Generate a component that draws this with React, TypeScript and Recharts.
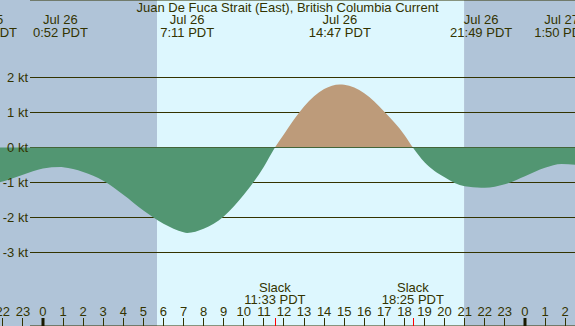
import React from "react";
import {
  ComposedChart,
  Area,
  XAxis,
  YAxis,
  CartesianGrid,
  ReferenceArea,
  ReferenceDot,
} from "recharts";

const W = 575;
const H = 326;
const FONT = "'Liberation Sans', Arial, sans-serif";
const C = {
  night: "#b0c4d8",
  day: "#ddf7fe",
  ebb: "#529672",
  flood: "#bd9b7a",
  ink: "#333300",
};

// hours after midnight Jul 26 (PDT), current speed in knots
const hours = [-2.14, -2, -1, 0, 0.87, 1, 2, 3, 4, 5, 6, 7, 7.18, 8, 9, 10, 11, 11.55, 12, 13, 14, 14.78, 15, 16, 17, 18, 18.42, 19, 20, 21, 21.82, 22, 23, 24, 25, 25.83, 26.5];
const knots = [-0.99, -0.97, -0.78, -0.6, -0.56, -0.565, -0.7, -0.95, -1.35, -1.8, -2.18, -2.42, -2.44, -2.32, -1.97, -1.35, -0.55, 0, 0.38, 1.17, 1.67, 1.8, 1.79, 1.55, 1.02, 0.36, 0, -0.42, -0.85, -1.11, -1.15, -1.15, -1.05, -0.82, -0.58, -0.47, -0.49];

// max / min current events shown along the top
const eventHours = [-2.84, 0.87, 7.18, 14.78, 21.82, 25.83];
const eventDates = ["Jul 25", "Jul 26", "Jul 26", "Jul 26", "Jul 26", "Jul 27"];
const eventTimes = ["21:10 PDT", "0:52 PDT", "7:11 PDT", "14:47 PDT", "21:49 PDT", "1:50 PDT"];

const slackHours = [11.55, 18.42];
const slackTimes = ["11:33 PDT", "18:25 PDT"];

// sunrise / sunset
const sunrise = 5.68;
const sunset = 20.97;

const hourTicks = [-2, -1, 0, 1, 2, 3, 4, 5, 6, 7, 8, 9, 10, 11, 12, 13, 14, 15, 16, 17, 18, 19, 20, 21, 22, 23, 24, 25, 26];
const ktTicks = [-3, -2, -1, 0, 1, 2];

const title = "Juan De Fuca Strait (East), British Columbia Current";

const xDomain: [number, number] = [-2.141, 26.494];
const yDomain: [number, number] = [-5.1, 4.2143];

const data = hours.map((h, i) => ({ h, v: knots[i] }));
const vMax = Math.max(...knots);
const vMin = Math.min(...knots);
const split = vMax / (vMax - vMin);

function HourTick(props: any) {
  const { x, payload } = props;
  const hr = ((payload.value % 24) + 24) % 24;
  const xr = Math.round(x - 0.5) + 0.5;
  return (
    <g>
      <text x={x} y={316} textAnchor="middle" fontSize={13} fontFamily={FONT} fill={C.ink}>
        {hr}
      </text>
      {hr === 0 ? (
        <rect x={Math.round(x) - 1.5} y={318} width={3} height={8} fill="#1a1a00" />
      ) : (
        <line x1={xr} x2={xr} y1={318} y2={H} stroke={C.ink} />
      )}
    </g>
  );
}

function KtTick(props: any) {
  const { y, payload } = props;
  return (
    <text x={28} y={y + 4.5} textAnchor="end" fontSize={13} fontFamily={FONT} fill={C.ink}>
      {payload.value} kt
    </text>
  );
}

export default function App() {
  return (
    <div style={{ position: "absolute", left: 0, top: 0, width: W, height: H }}>
      <ComposedChart width={W} height={H} data={data} margin={{ top: 0, right: 0, bottom: -1, left: -1 }}>
        <defs>
          <linearGradient id="splitFill" x1="0" y1="0" x2="0" y2="1">
            <stop offset={split} stopColor={C.flood} />
            <stop offset={split} stopColor={C.ebb} />
          </linearGradient>
        </defs>
        <ReferenceArea x1={xDomain[0]} x2={sunrise} fill={C.night} fillOpacity={1} ifOverflow="hidden" zIndex={-200} />
        <ReferenceArea x1={sunrise} x2={sunset} fill={C.day} fillOpacity={1} ifOverflow="hidden" zIndex={-200} />
        <ReferenceArea x1={sunset} x2={xDomain[1]} fill={C.night} fillOpacity={1} ifOverflow="hidden" zIndex={-200} />
        <CartesianGrid
          vertical={false}
          zIndex={-100}
          horizontal={(p: any) => (
            <line key={`g${p.index}`} x1={30} y1={p.y1} x2={p.x2} y2={p.y2} stroke={C.ink} />
          )}
        />
        <Area
          type="monotone"
          dataKey="v"
          baseValue={0}
          stroke="none"
          fill="url(#splitFill)"
          fillOpacity={1}
          dot={false}
          activeDot={false}
          zIndex={100}
          isAnimationActive={false}
        />
        <XAxis
          dataKey="h"
          type="number"
          domain={xDomain}
          allowDataOverflow
          ticks={hourTicks}
          interval={0}
          tick={<HourTick />}
          tickLine={false}
          axisLine={false}
          height={1}
        />
        <YAxis
          type="number"
          domain={yDomain}
          allowDataOverflow
          ticks={ktTicks}
          interval={0}
          tick={<KtTick />}
          tickLine={false}
          axisLine={false}
          width={1}
        />
        {eventHours.map((t, i) => (
          <ReferenceDot
            key={`e${i}`}
            x={t}
            y={0}
            r={0}
            ifOverflow="visible"
            shape={(p: any) => (
              <g>
                <text x={p.cx} y={24} textAnchor="middle" fontSize={13} fontFamily={FONT} fill={C.ink}>
                  {eventDates[i]}
                </text>
                <text x={p.cx} y={36.5} textAnchor="middle" fontSize={13} fontFamily={FONT} fill={C.ink}>
                  {eventTimes[i]}
                </text>
              </g>
            )}
          />
        ))}
        {slackHours.map((t, i) => (
          <ReferenceDot
            key={`s${i}`}
            x={t}
            y={0}
            r={0}
            ifOverflow="visible"
            shape={(p: any) => (
              <g>
                <text x={p.cx} y={292} textAnchor="middle" fontSize={13} fontFamily={FONT} fill={C.ink}>
                  Slack
                </text>
                <text x={p.cx} y={304} textAnchor="middle" fontSize={13} fontFamily={FONT} fill={C.ink}>
                  {slackTimes[i]}
                </text>
                <line x1={Math.round(p.cx) + 0.5} x2={Math.round(p.cx) + 0.5} y1={318} y2={H} stroke="#ff0000" />
              </g>
            )}
          />
        ))}
      </ComposedChart>
      <div
        style={{
          position: "absolute",
          left: 0,
          top: 0,
          width: W,
          textAlign: "center",
          font: `13px ${FONT}`,
          lineHeight: "15px",
          color: C.ink,
          pointerEvents: "none",
        }}
      >
        {title}
      </div>
    </div>
  );
}
